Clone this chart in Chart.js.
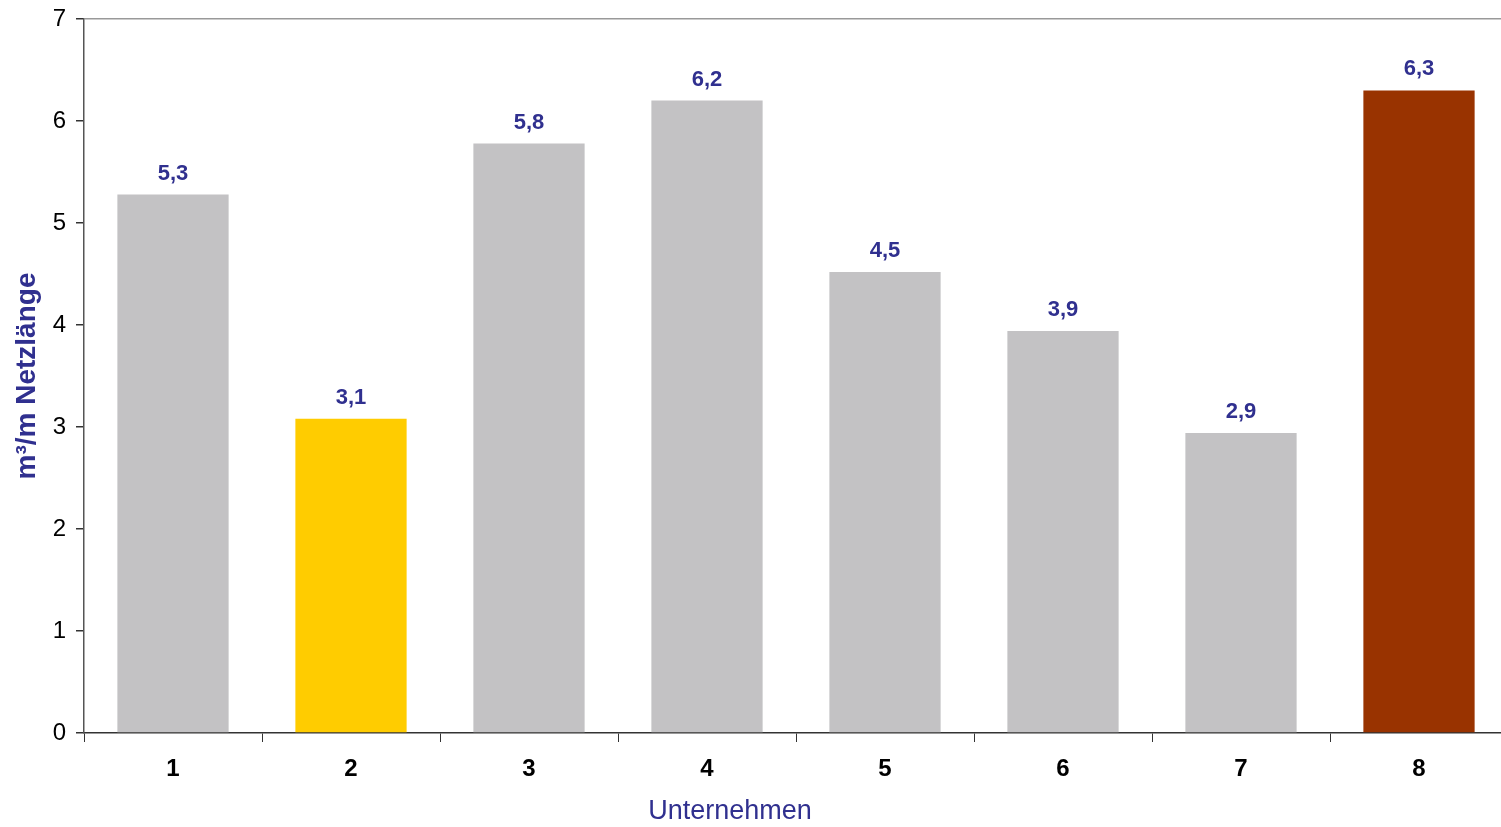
<!DOCTYPE html>
<html>
<head>
<meta charset="utf-8">
<script src="https://cdn.jsdelivr.net/npm/chart.js@4/dist/chart.umd.min.js"></script>
<style>
  body { margin: 0; background: #fff; overflow: hidden; }
  #wrap { width: 1510px; height: 827px; position: relative; }
</style>
</head>
<body>
<div id="wrap"><canvas id="myChart"></canvas></div>
<script>
// chart data
const categories = ['1', '2', '3', '4', '5', '6', '7', '8']
const values = [5.28, 3.08, 5.78, 6.2, 4.52, 3.94, 2.94, 6.3]
const barColors = ['#c3c2c4', '#ffcc00', '#c3c2c4', '#c3c2c4', '#c3c2c4', '#c3c2c4', '#c3c2c4', '#993300']
const yTicks = [0, 1, 2, 3, 4, 5, 6, 7]
const xTitle = 'Unternehmen'
const yTitle = 'm³/m Netzlänge'

const labelBlue = '#30308f'
const FONT = '"Liberation Sans", Arial, sans-serif'

// writes the value above each bar, German decimal comma
// and the x axis title, which sits left of centre in the original
const extraText = {
  id: 'extraText',
  afterDatasetsDraw(chart) {
    const ctx = chart.ctx
    const meta = chart.getDatasetMeta(0)
    ctx.save()
    ctx.font = 'bold 22px ' + FONT
    ctx.fillStyle = labelBlue
    ctx.textAlign = 'center'
    ctx.textBaseline = 'bottom'
    meta.data.forEach(function (bar, i) {
      const txt = values[i].toFixed(1).replace('.', ',')
      ctx.fillText(txt, bar.x, bar.y - 10)
    })
    const area = chart.chartArea
    ctx.font = '27px ' + FONT
    ctx.textBaseline = 'middle'
    ctx.fillText(xTitle, area.left + area.width * 0.4537, 812)
    ctx.restore()
  }
}

const ctx = document.getElementById('myChart').getContext('2d')
const chart = new Chart(ctx, {
  type: 'bar',
  data: {
    labels: categories,
    datasets: [{
      data: values,
      backgroundColor: barColors,
      borderWidth: 0,
      barPercentage: 0.625,
      categoryPercentage: 1.0
    }]
  },
  options: {
    responsive: true,
    maintainAspectRatio: false,
    animation: false,
    layout: { padding: { top: 19, right: 2, left: 0, bottom: 0 } },
    plugins: {
      legend: { display: false },
      tooltip: { enabled: false }
    },
    scales: {
      x: {
        grid: {
          offset: true,
          drawOnChartArea: false,
          tickLength: 9,
          tickColor: '#333'
        },
        border: { color: '#333', width: 1.5 },
        ticks: {
          color: '#000',
          padding: 13,
          font: { family: FONT, size: 24, weight: 'bold' }
        },
        afterFit(scale) { scale.height = 94 }
      },
      y: {
        min: 0,
        max: 7,
        afterBuildTicks(scale) { scale.ticks = yTicks.map(v => ({ value: v })) },
        grid: {
          color: c => (c.tick && c.tick.value === 7) ? '#999' : 'rgba(0,0,0,0)',
          tickColor: '#333',
          tickLength: 8,
          lineWidth: 1.5
        },
        border: { color: '#555', width: 1.5 },
        ticks: {
          color: '#000',
          padding: 10,
          font: { family: FONT, size: 24 }
        },
        title: {
          display: true,
          text: yTitle,
          color: labelBlue,
          padding: { top: 10, bottom: 0 },
          font: { family: FONT, size: 28, weight: 'bold' }
        },
        afterFit(scale) {
          scale.width = 84
          scale.paddingTop = 0
        }
      }
    }
  },
  plugins: [extraText]
})
</script>
</body>
</html>
